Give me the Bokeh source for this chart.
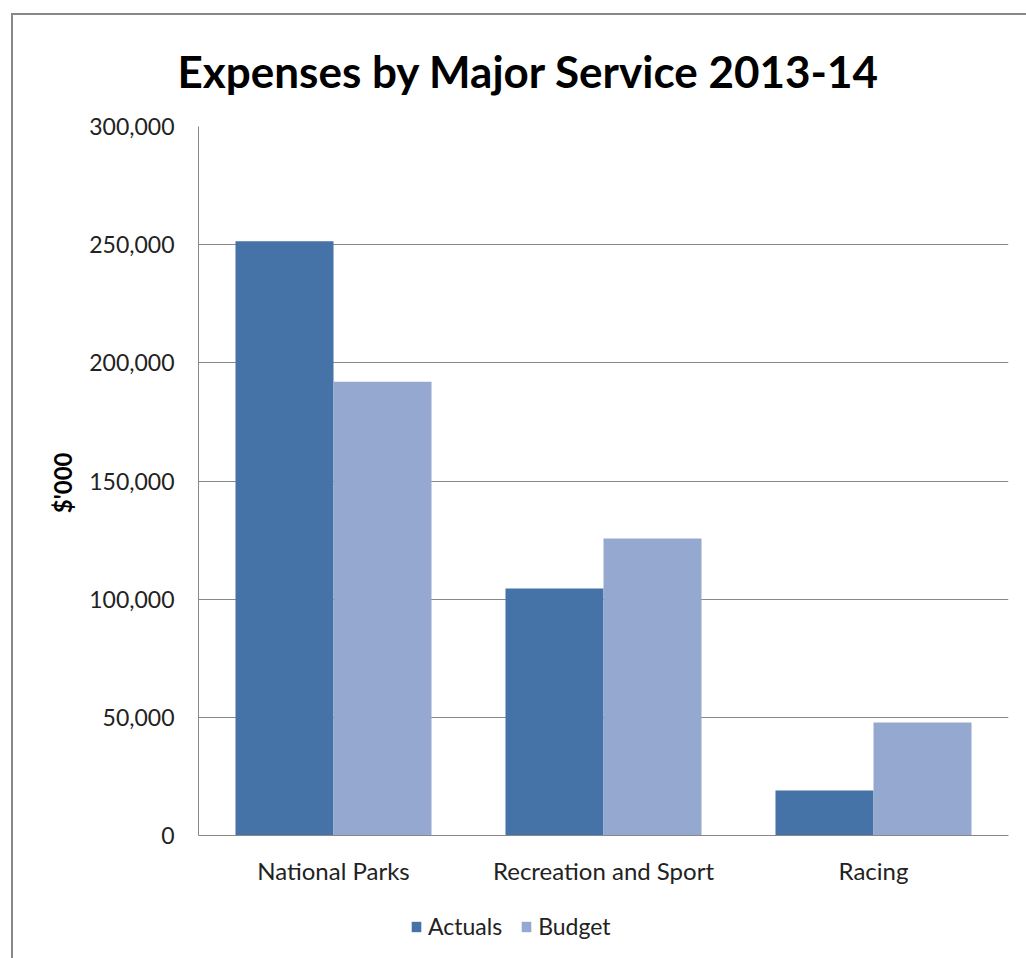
from bokeh.plotting import figure
from bokeh.models import (FactorRange, ColumnDataSource, NumeralTickFormatter, Legend, LegendItem,
                          FixedTicker, Title, Range1d)
from bokeh.transform import dodge
from bokeh.embed import file_html
from bokeh.resources import INLINE

categories = ["National Parks", "Recreation and Sport", "Racing"]
actuals = [251400, 104500, 19000]
budget = [192000, 125700, 47800]
series_names = ["Actuals", "Budget"]
y_ticks = [0, 50000, 100000, 150000, 200000, 250000, 300000]
title_text = "Expenses by Major Service 2013-14"
y_label = "$'000"
colors = ["#4572A7", "#95A9D0"]

FONT = "Lato"

# layout geometry (pixels)
PLOT_H = 709          # pixel height of the 0..max value span
BELOW = 123           # pixels of frame below zero (room for labels and legend)
YMAX = y_ticks[-1]
upp = YMAX / PLOT_H   # value units per pixel

src = ColumnDataSource(dict(cat=categories, actuals=actuals, budget=budget))

p = figure(x_range=FactorRange(*categories),
           y_range=Range1d(-BELOW * upp, YMAX),
           frame_width=810, frame_height=PLOT_H + BELOW,
           min_border_left=185, min_border_right=18, min_border_top=111, min_border_bottom=0,
           output_backend="svg", toolbar_location=None, title=None,
           background_fill_color="white", border_fill_color="white",
           margin=(13, 0, 0, 11),
           styles={"border-left": "2px solid #888888", "border-top": "2px solid #888888"})
p.outline_line_color = None

r1 = p.vbar(x=dodge("cat", -0.1815, range=p.x_range), top="actuals", width=0.363, source=src,
            fill_color=colors[0], line_color=None)
r2 = p.vbar(x=dodge("cat", 0.1815, range=p.x_range), top="budget", width=0.363, source=src,
            fill_color=colors[1], line_color=None)

title = Title(text=title_text, align="left", offset=-21, vertical_align="top",
              text_font=FONT, text_font_size="44px", text_font_style="bold", text_color="#000000",
              standoff=55)
p.add_layout(title, "above")

# y axis
p.yaxis.ticker = FixedTicker(ticks=y_ticks)
p.yaxis.bounds = (0, YMAX)
p.yaxis.formatter = NumeralTickFormatter(format="0,0")
p.yaxis.major_label_text_font = FONT
p.yaxis.major_label_text_font_size = "23px"
p.yaxis.major_label_text_color = "#222222"
p.yaxis.major_tick_out = 0
p.yaxis.major_tick_in = 0
p.yaxis.minor_tick_out = 0
p.yaxis.minor_tick_in = 0
p.yaxis.major_label_standoff = 24
p.yaxis.axis_line_color = "#888888"

# y axis title, placed beside the value span (not the extended frame)
ytitle = Title(text=y_label, align="right", offset=326, vertical_align="bottom",
               text_font=FONT, text_font_size="24px", text_font_style="bold", text_color="#000000",
               standoff=20)
p.add_layout(ytitle, "left")

# x axis at value 0
p.xaxis.fixed_location = 0
p.xaxis.major_label_text_font = FONT
p.xaxis.major_label_text_font_size = "24px"
p.xaxis.major_label_text_color = "#222222"
p.xaxis.major_tick_out = 0
p.xaxis.major_tick_in = 0
p.xaxis.major_label_standoff = 20
p.xaxis.axis_line_color = "#888888"

p.xgrid.grid_line_color = None
p.ygrid.grid_line_color = "#888888"
p.ygrid.grid_line_width = 1

legend = Legend(items=[LegendItem(label=series_names[0], renderers=[r1]),
                       LegendItem(label=series_names[1], renderers=[r2])],
                orientation="horizontal", location=(212, 18),
                label_text_font=FONT, label_text_font_size="23px", label_text_color="#222222",
                glyph_width=12, glyph_height=13, label_standoff=6, spacing=18,
                padding=0, margin=0, border_line_color=None, background_fill_alpha=0)
p.add_layout(legend, "center")

open("out.html", "w").write(file_html(p, INLINE))
